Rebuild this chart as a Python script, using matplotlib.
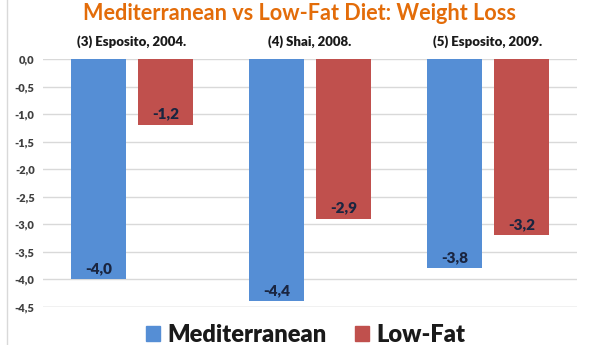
import matplotlib
matplotlib.use("Agg")
import matplotlib.pyplot as plt
import numpy as np
from matplotlib.patches import Patch

studies = ["(3) Esposito, 2004.", "(4) Shai, 2008.", "(5) Esposito, 2009."]
mediterranean = [-4.0, -4.4, -3.8]
low_fat = [-1.2, -2.9, -3.2]
series_names = ["Mediterranean", "Low-Fat"]
yticks = [0.0, -0.5, -1.0, -1.5, -2.0, -2.5, -3.0, -3.5, -4.0, -4.5]

plt.rcParams['font.family'] = ['Lato', 'DejaVu Sans']

BLUE = "#558ED5"
RED = "#C0504D"

fig = plt.figure(figsize=(5.9, 3.45), dpi=100)
ax = fig.add_axes([43/590, 1-307/345, 534/590, 248/345])

x = np.arange(len(studies))
w = 0.309
off = 0.188
b1 = ax.bar(x - off, mediterranean, w, color=BLUE, zorder=3)
b2 = ax.bar(x + off, low_fat, w, color=RED, zorder=3)

for bars, vals in ((b1, mediterranean), (b2, low_fat)):
    for r, v in zip(bars, vals):
        ax.text(r.get_x() + r.get_width()/2, v + 0.2, f"{v:.1f}".replace(".", ","),
                ha="center", va="center", fontsize=11, fontweight="heavy",
                color="#1A2540", zorder=4)

ax.set_xlim(-0.5, 2.5)
ax.set_ylim(-4.5, 0)
ax.set_yticks(yticks)
ax.set_yticklabels([f"{t:.1f}".replace(".", ",") for t in yticks],
                   fontsize=8, fontweight="heavy", color="#404040")
ax.yaxis.grid(True, color="#D9D9D9", linewidth=1, zorder=0)
ax.set_axisbelow(True)
ax.tick_params(axis="y", length=0, pad=6)
ax.set_xticks([])
for s in ax.spines.values():
    s.set_visible(False)
ax.axhline(-4.5, color="#D9D9D9", linewidth=1, zorder=0)

for i, name in enumerate(studies):
    ax.text(i, 0.2, name, ha="center", va="bottom", fontsize=9.5,
            fontweight="heavy", color="#1A1A1A", transform=ax.transData,
            clip_on=False)

fig.text(0.508, 0.96, "Mediterranean vs Low-Fat Diet: Weight Loss",
         ha="center", va="center", fontsize=15.6, fontweight="bold",
         color="#E36C09")

handles = [Patch(color=BLUE), Patch(color=RED)]
fig.legend(handles, series_names, loc="center", bbox_to_anchor=(0.518, 0.03),
           ncol=2, frameon=False, prop={"family": "Lato", "weight": "heavy", "size": 17},
           handlelength=0.6, handleheight=0.6, handletextpad=0.3, columnspacing=1.2,
           labelcolor="#1A1A1A")

fig.add_artist(plt.Line2D([7/590, 7/590], [0, 1], color="#D9D9D9", linewidth=1))

fig.savefig("out.png", dpi=100)
